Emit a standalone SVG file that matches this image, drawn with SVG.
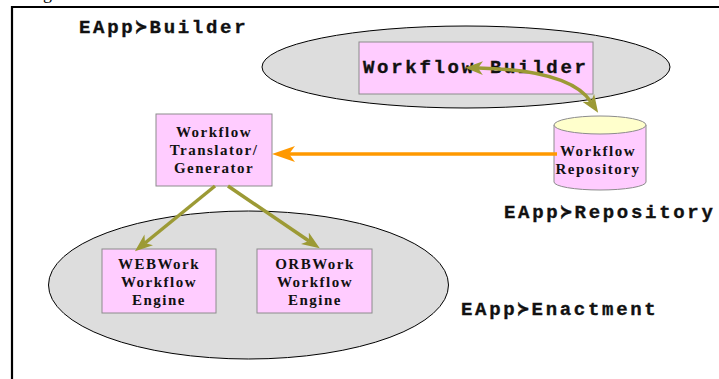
<svg xmlns="http://www.w3.org/2000/svg" width="719" height="379" viewBox="0 0 719 379">
  <style>
    .area { fill: #dddddd; stroke: #000000; stroke-width: 1; }
    .box { fill: #ffccff; stroke: #8c8c8c; stroke-width: 1; }
    .zone { font-family: "Liberation Mono", "DejaVu Sans Mono", monospace; font-weight: bold; font-size: 19px; letter-spacing: 2.7px; fill: #111111; stroke: #111111; stroke-width: 0.35; }
    .lbl { font-family: "Liberation Serif", "DejaVu Serif", serif; font-weight: bold; font-size: 15px; letter-spacing: 1.5px; fill: #111111; text-anchor: middle; }
    .olive { fill: none; stroke: #9c9a35; stroke-width: 3.5; }
    .orange { fill: none; stroke: #ff9900; stroke-width: 3.5; }
  </style>
  <defs>
    <marker id="headOlive" markerUnits="userSpaceOnUse" viewBox="0 -8 18 16" refX="5" refY="0" markerWidth="18" markerHeight="16" orient="auto-start-reverse">
      <path d="M18,0 L0,-7 L5,0 L0,7 Z" fill="#9c9a35"/>
    </marker>
    <marker id="headOrange" markerUnits="userSpaceOnUse" viewBox="0 -9 23 18" refX="6" refY="0" markerWidth="23" markerHeight="18" orient="auto">
      <path d="M23,0 L0,-8 L6,0 L0,8 Z" fill="#ff9900"/>
    </marker>
  </defs>

  <rect width="719" height="379" fill="#ffffff"/>

  <!-- caption tail clipped at the top edge -->
  <text x="43" y="-1" font-family="Liberation Serif, serif" font-size="18" fill="#000000">g</text>

  <!-- outer frame -->
  <path d="M12,379 V7 H719" fill="none" stroke="#000000" stroke-width="2.2"/>

  <!-- zone areas -->
  <g id="builder-area">
    <ellipse class="area" cx="466" cy="67" rx="204" ry="41"/>
    <text class="zone" x="79" y="33">EApp≻Builder</text>
  </g>
  <g id="enactment-area">
    <ellipse class="area" cx="248.5" cy="285" rx="200" ry="74"/>
    <text class="zone" x="461" y="315">EApp≻Enactment</text>
  </g>

  <!-- nodes -->
  <g id="workflow-builder">
    <rect class="box" x="359" y="42" width="234" height="52"/>
    <text class="zone" x="363" y="73">Workflow Builder</text>
  </g>

  <g id="workflow-repository">
    <path class="box" d="M554,125 V182 A46,8 0 0 0 646,182 V125"/>
    <ellipse cx="600" cy="125" rx="46" ry="9" fill="#ffffcc" stroke="#8c8c8c" stroke-width="1"/>
    <text class="lbl" x="598" y="156">Workflow</text>
    <text class="lbl" x="598" y="174">Repository</text>
    <text class="zone" x="504" y="218">EApp≻Repository</text>
  </g>

  <g id="workflow-translator">
    <rect class="box" x="156" y="114" width="116" height="72"/>
    <text class="lbl" x="214" y="137">Workflow</text>
    <text class="lbl" x="214" y="155">Translator/</text>
    <text class="lbl" x="214" y="173">Generator</text>
  </g>

  <g id="webwork-engine">
    <rect class="box" x="102" y="249" width="114" height="64"/>
    <text class="lbl" x="159" y="269">WEBWork</text>
    <text class="lbl" x="159" y="287">Workflow</text>
    <text class="lbl" x="159" y="305">Engine</text>
  </g>

  <g id="orbwork-engine">
    <rect class="box" x="257" y="249" width="115" height="64"/>
    <text class="lbl" x="315" y="269">ORBWork</text>
    <text class="lbl" x="315" y="287">Workflow</text>
    <text class="lbl" x="315" y="305">Engine</text>
  </g>

  <!-- connectors -->
  <g id="connectors">
    <path class="olive" d="M478,68 Q570,70 591,102" marker-start="url(#headOlive)" marker-end="url(#headOlive)"/>
    <path class="orange" d="M557,154 H289" marker-end="url(#headOrange)"/>
    <path class="olive" d="M215,186 L145,243" marker-end="url(#headOlive)"/>
    <path class="olive" d="M228,186 L309,241" marker-end="url(#headOlive)"/>
  </g>
</svg>
